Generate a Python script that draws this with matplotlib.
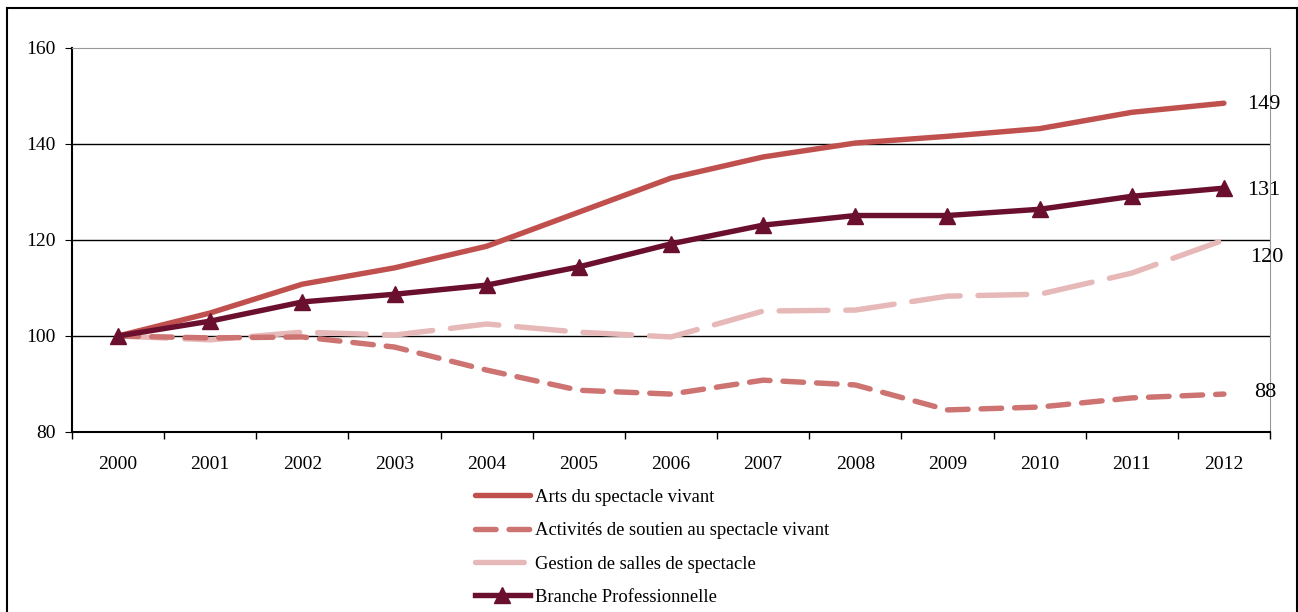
import matplotlib
matplotlib.use('Agg')
import matplotlib.pyplot as plt
from matplotlib.patches import Rectangle
import numpy as np

# data (index base 100 in 2000)
years = ['2000', '2001', '2002', '2003', '2004', '2005', '2006',
         '2007', '2008', '2009', '2010', '2011', '2012']
arts = [100, 104.8, 110.8, 114.2, 118.7, 125.8, 132.9, 137.3, 140.2, 141.6, 143.2, 146.6, 148.5]
soutien = [100, 99.6, 99.8, 97.7, 92.9, 88.7, 87.9, 90.8, 89.8, 84.6, 85.2, 87.1, 87.9]
gestion = [100, 99.2, 100.8, 100.2, 102.5, 100.8, 99.8, 105.2, 105.4, 108.3, 108.7, 113.1, 120.0]
branche = [100, 103.1, 107.1, 108.7, 110.6, 114.4, 119.2, 123.1, 125.1, 125.1, 126.4, 129.1, 130.8]
end_labels = ['149', '131', '120', '88']

plt.rcParams['font.family'] = ['Liberation Serif', 'DejaVu Serif']

fig = plt.figure(figsize=(12.98, 6.12), dpi=100)
fig.patches.append(Rectangle((7 / 1298, -0.01), 1 - 8 / 1298, 1 - 8 / 612 + 0.01,
                             transform=fig.transFigure, fill=False,
                             edgecolor='black', linewidth=1.5))

ax = fig.add_axes([72 / 1298, 1 - 432 / 612, (1270 - 72) / 1298, (432 - 48) / 612])
x = np.arange(len(years))

ax.plot(x, arts, color='#C0504D', linewidth=3.9, solid_capstyle='round',
        label='Arts du spectacle vivant', zorder=3)
ax.plot(x, soutien, color='#CD7371', linewidth=3.9, dashes=(3.8, 2.4),
        dash_capstyle='round', label='Activités de soutien au spectacle vivant', zorder=3)
ax.plot(x, gestion, color='#E6B8B7', linewidth=3.9, dashes=(9, 3.3),
        dash_capstyle='round', label='Gestion de salles de spectacle', zorder=2)
ax.plot(x, branche, color='#6B0F2F', linewidth=3.9, marker='^', markersize=11,
        label='Branche Professionnelle', zorder=4)

ax.set_xlim(-0.5, len(years) - 0.5)
ax.set_ylim(80, 160)
ax.set_yticks([80, 100, 120, 140, 160])
ax.set_xticks(x)
ax.set_xticklabels(years)
ax.set_xticks(np.arange(-0.5, len(years), 1), minor=True)
ax.tick_params(axis='x', which='major', length=0, labelsize=14, pad=17)
ax.tick_params(axis='x', which='minor', length=5, direction='out', width=1)
ax.tick_params(axis='y', length=5, direction='out', labelsize=14, pad=7)

for v in [100, 120, 140]:
    ax.axhline(v, color='black', linewidth=1, zorder=1)
ax.spines['top'].set_color('#999999')
ax.spines['right'].set_color('#999999')
ax.spines['left'].set_linewidth(1.5)
ax.spines['bottom'].set_linewidth(1.5)

# end-of-line values
ax.text(12.25, arts[-1] - 0.3, end_labels[0], fontsize=16, va='center', ha='left')
ax.text(12.25, branche[-1] - 0.4, end_labels[1], fontsize=16, va='center', ha='left')
ax.text(12.28, gestion[-1] - 3.6, end_labels[2], fontsize=16, va='center', ha='left')
ax.text(12.33, soutien[-1] + 0.4, end_labels[3], fontsize=16, va='center', ha='left')

fig.legend(loc='upper left', bbox_to_anchor=(458 / 1298, 1 - 472 / 612),
           frameon=False, fontsize=13.4, handlelength=2.95, handletextpad=0.27,
           labelspacing=0.88)

plt.savefig('out.png', dpi=100)
